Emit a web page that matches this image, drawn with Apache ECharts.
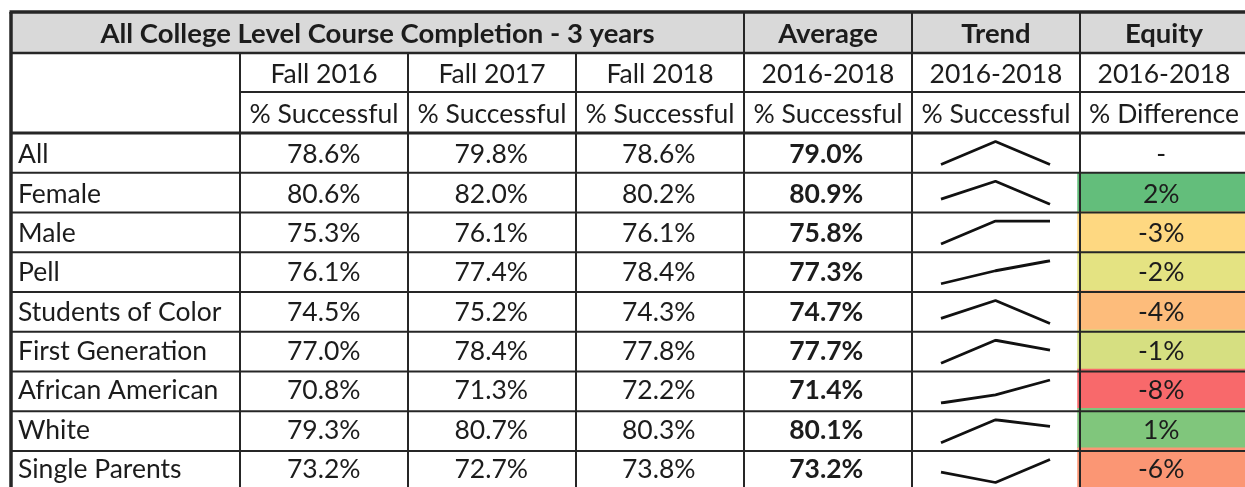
<!DOCTYPE html>
<html>
<head>
<meta charset="utf-8">
<script src="https://cdn.jsdelivr.net/npm/echarts@6/dist/echarts.min.js"></script>
<style>
  html, body { margin: 0; padding: 0; background: #fff; }
  #table { width: 1245px; height: 487px; }
</style>
</head>
<body>
<div id="table"></div>
<script>
// values
var groups = ["All", "Female", "Male", "Pell", "Students of Color", "First Generation", "African American", "White", "Single Parents"];
var fall2016 = [78.6, 80.6, 75.3, 76.1, 74.5, 77.0, 70.8, 79.3, 73.2];
var fall2017 = [79.8, 82.0, 76.1, 77.4, 75.2, 78.4, 71.3, 80.7, 72.7];
var fall2018 = [78.6, 80.2, 76.1, 78.4, 74.3, 77.8, 72.2, 80.3, 73.8];
var average = [79.0, 80.9, 75.8, 77.3, 74.7, 77.7, 71.4, 80.1, 73.2];
// % difference vs All (shown rounded)
var equity = [null, 1.9, -3.2, -1.7, -4.3, -1.3, -7.6, 1.1, -5.8];

var columns = ["Fall 2016", "Fall 2017", "Fall 2018", "Average", "Trend", "Equity"];
var headTop = ["All College Level Course Completion - 3 years", "Average", "Trend", "Equity"];
var headYears = ["Fall 2016", "Fall 2017", "Fall 2018", "2016-2018", "2016-2018", "2016-2018"];
var headMeasure = ["% Successful", "% Successful", "% Successful", "% Successful", "% Successful", "% Difference"];
var trendYears = ["2016", "2017", "2018"];

// layout
var FONT = "Lato";
var SIZE = 26.5;
var BOLD_SIZE = 27.5;
var TXT = "#1c1c1c";
var LINE = "#262626";
var colX = [11, 240, 408, 576, 744, 912, 1080, 1248];
var headY = [12, 53, 92, 133];
var rowH = 39.75;
var bodyTop = 133;
var bodyBottom = bodyTop + rowH * groups.length;

// excel style 3 colour scale, yellow at the median
function median(arr) {
  var s = arr.filter(function (v) { return v != null; }).sort(function (a, b) { return a - b; });
  var m = Math.floor(s.length / 2);
  return s.length % 2 ? s[m] : (s[m - 1] + s[m]) / 2;
}
function mix(a, b, t) {
  return "rgb(" + [0, 1, 2].map(function (k) { return Math.round(a[k] + (b[k] - a[k]) * t); }).join(",") + ")";
}
var eqVals = equity.filter(function (v) { return v != null; });
var eqMin = Math.min.apply(null, eqVals);
var eqMax = Math.max.apply(null, eqVals);
var eqMid = median(equity);
var red = [248, 105, 107], yellow = [255, 235, 132], green = [99, 190, 123];
var eqColors = [];
for (var i = 0; i <= 40; i++) {
  var v = eqMin + (eqMax - eqMin) * i / 40;
  eqColors.push(v <= eqMid ? mix(red, yellow, (v - eqMin) / (eqMid - eqMin)) : mix(yellow, green, (v - eqMid) / (eqMax - eqMid)));
}

function labelSeries(col, arr, fmt, bold) {
  return {
    type: "scatter",
    xAxisIndex: 0, yAxisIndex: 0,
    symbol: "rect", symbolSize: 1,
    itemStyle: { color: "rgba(0,0,0,0)", opacity: 1 },
    silent: true,
    data: arr.map(function (v, i) { return [col, i, v]; }),
    label: {
      show: true, position: "inside", offset: [0, 2],
      fontFamily: FONT, fontSize: SIZE, color: TXT, fontWeight: bold ? "bold" : "normal",
      formatter: fmt
    }
  };
}
function pct1(p) { return p.value[2].toFixed(1) + "%"; }

// grid 0: the numeric body, grid 1: the row label column
var grids = [
  { left: colX[1], top: bodyTop, width: colX[7] - colX[1], height: bodyBottom - bodyTop },
  { left: colX[0], top: bodyTop, width: colX[1] - colX[0], height: bodyBottom - bodyTop }
];
var xAxes = [
  { type: "category", data: columns, gridIndex: 0, show: false },
  { type: "value", min: 0, max: 1, gridIndex: 1, show: false }
];
var yAxes = [
  { type: "category", data: groups, gridIndex: 0, inverse: true, show: false },
  { type: "category", data: groups, gridIndex: 1, inverse: true, show: false }
];

var series = [
  labelSeries(0, fall2016, pct1),
  labelSeries(1, fall2017, pct1),
  labelSeries(2, fall2018, pct1),
  labelSeries(3, average, pct1, true),
  {
    type: "heatmap",
    xAxisIndex: 0, yAxisIndex: 0,
    silent: true,
    data: equity.map(function (v, i) { return [5, i, v]; }).filter(function (d) { return d[2] != null; }),
    label: {
      show: true, offset: [0, 2], fontFamily: FONT, fontSize: SIZE, color: TXT,
      formatter: function (p) { return Math.round(p.value[2]) + "%"; }
    }
  },
  labelSeries(5, equity.map(function (v) { return v == null ? 0 : null; }).slice(0, 1), "-"),
  {
    type: "scatter",
    xAxisIndex: 1, yAxisIndex: 1,
    symbol: "rect", symbolSize: 1,
    itemStyle: { color: "rgba(0,0,0,0)", opacity: 1 },
    silent: true,
    data: groups.map(function (g, i) { return [0, i]; }),
    label: {
      show: true, position: "right", distance: 6.5, offset: [0, 2],
      fontFamily: FONT, fontSize: SIZE, color: TXT,
      formatter: function (p) { return groups[p.value[1]]; }
    }
  }
];

// sparklines, one small grid per row, scaled to that row's own min / max
groups.forEach(function (g, i) {
  var gi = grids.length;
  grids.push({ left: colX[5] + 29, width: 109, top: bodyTop + rowH * i + 8.5, height: 23 });
  xAxes.push({ type: "category", data: trendYears, gridIndex: gi, boundaryGap: false, show: false });
  yAxes.push({ type: "value", gridIndex: gi, min: "dataMin", max: "dataMax", show: false });
  series.push({
    type: "line", xAxisIndex: gi, yAxisIndex: gi, silent: true,
    symbol: "none", animation: false,
    lineStyle: { color: "#111", width: 2.8 },
    data: [fall2016[i], fall2017[i], fall2018[i]]
  });
});

// header texts and borders
var graphic = [];
graphic.push({ type: "rect", z: 0, shape: { x: colX[0], y: headY[0], width: colX[7] - colX[0], height: headY[1] - headY[0] }, style: { fill: "#d9d9d9" } });

function text(str, cx, cy, bold) {
  return {
    type: "text", z: 50, x: cx, y: cy,
    style: {
      text: str, fill: TXT, font: (bold ? "bold " + BOLD_SIZE : SIZE) + "px " + FONT,
      textAlign: "center", textVerticalAlign: "middle", align: "center", verticalAlign: "middle"
    }
  };
}
var topSpans = [[0, 4], [4, 5], [5, 6], [6, 7]];
headTop.forEach(function (t, k) {
  graphic.push(text(t, (colX[topSpans[k][0]] + colX[topSpans[k][1]]) / 2, (headY[0] + headY[1]) / 2 + 2, true));
});
headYears.forEach(function (t, k) {
  graphic.push(text(t, (colX[k + 1] + colX[k + 2]) / 2, (headY[1] + headY[2]) / 2 + 1.5, false));
});
headMeasure.forEach(function (t, k) {
  graphic.push(text(t, (colX[k + 1] + colX[k + 2]) / 2, (headY[2] + headY[3]) / 2 + 1.5, false));
});

function hline(y, x1, x2, w) {
  return { type: "line", z: 100, shape: { x1: x1, y1: y, x2: x2, y2: y }, style: { stroke: LINE, lineWidth: w } };
}
function vline(x, y1, y2, w) {
  return { type: "line", z: 100, shape: { x1: x, y1: y1, x2: x, y2: y2 }, style: { stroke: LINE, lineWidth: w } };
}
graphic.push(hline(headY[0], colX[0] - 1.5, colX[7], 3.5));
graphic.push(hline(headY[1], colX[0], colX[7], 2.5));
graphic.push(hline(headY[2], colX[1], colX[7], 2));
graphic.push(hline(headY[3], colX[0], colX[7], 3));
for (var r = 1; r <= groups.length; r++) {
  graphic.push(hline(bodyTop + rowH * r, colX[0], colX[7], 2));
}
graphic.push(vline(colX[0], headY[0], bodyBottom, 3.5));
[1, 2, 3].forEach(function (k) { graphic.push(vline(colX[k], headY[1], bodyBottom, 2)); });
[4, 5, 6, 7].forEach(function (k) { graphic.push(vline(colX[k], headY[0], bodyBottom, 2)); });

var chart = echarts.init(document.getElementById("table"));
chart.setOption({
  backgroundColor: "#fff",
  animation: false,
  grid: grids,
  xAxis: xAxes,
  yAxis: yAxes,
  visualMap: {
    type: "continuous", show: false, seriesIndex: 4, dimension: 2,
    min: eqMin, max: eqMax, inRange: { color: eqColors }
  },
  series: series,
  graphic: graphic
});
</script>
</body>
</html>
